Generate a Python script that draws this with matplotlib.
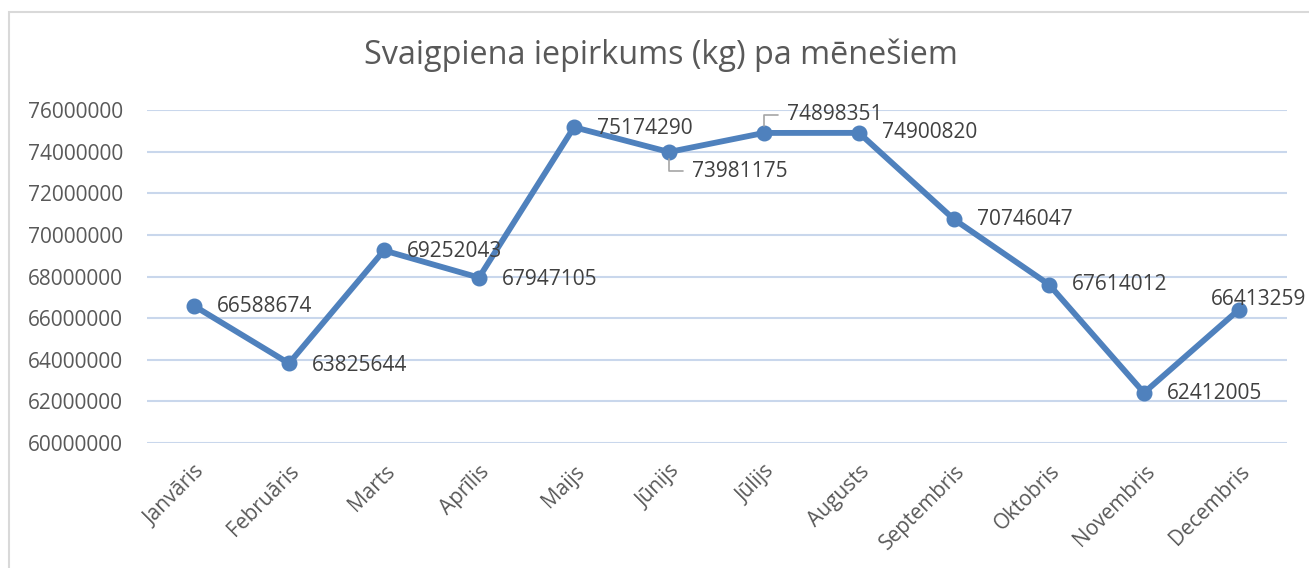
import matplotlib
matplotlib.use("Agg")
import matplotlib.pyplot as plt
from matplotlib.patches import Rectangle

months = ["Janvāris", "Februāris", "Marts", "Aprīlis", "Maijs", "Jūnijs",
          "Jūlijs", "Augusts", "Septembris", "Oktobris", "Novembris", "Decembris"]
values = [66588674, 63825644, 69252043, 67947105, 75174290, 73981175,
          74898351, 74900820, 70746047, 67614012, 62412005, 66413259]
yticks = [60000000, 62000000, 64000000, 66000000, 68000000, 70000000,
          72000000, 74000000, 76000000]
title = "Svaigpiena iepirkums (kg) pa mēnešiem"

FONT = ["Open Sans", "DejaVu Sans"]
plt.rcParams['font.family'] = FONT

W, H = 1309, 568
fig = plt.figure(figsize=(W / 100, H / 100), dpi=100)
fig.patch.set_facecolor("white")

# chart border
fig.add_artist(Rectangle((9 / W, -0.1), 1.2, 1 - 12 / H + 0.1, transform=fig.transFigure,
                         fill=False, edgecolor="#D9D9D9", linewidth=1.5))

left, right = 146.5 / W, 1286.5 / W
bottom, top = 1 - 443 / H, 1 - 110 / H
ax = fig.add_axes([left, bottom, right - left, top - bottom])

x = list(range(len(months)))
line_color = "#4F81BD"
ax.plot(x, values, color=line_color, linewidth=4.2, marker="o", markersize=10.5,
        solid_capstyle="round", solid_joinstyle="round", zorder=3, clip_on=False)

ax.set_xlim(-0.5, len(months) - 0.5)
ax.set_ylim(yticks[0], yticks[-1])
ax.set_yticks(yticks)
ax.set_yticklabels([str(v) for v in yticks])
ax.set_xticks(x)
ax.set_xticklabels(months, rotation=45, ha="right", rotation_mode="anchor")
ax.tick_params(axis="y", length=0, pad=17, labelsize=15, labelcolor="#595959")
ax.tick_params(axis="x", length=0, pad=13, labelsize=15, labelcolor="#595959")
for s in ax.spines.values():
    s.set_visible(False)
ax.grid(axis="y", color="#C9D7EC", linewidth=1.5)
ax.set_axisbelow(True)

# data labels (offsets in pixels)
offsets = {0: (23, -1), 1: (23, -2), 2: (23, -1), 3: (23, -2), 4: (23, -1),
           5: (23, -19), 6: (23, 18), 7: (23, 0), 8: (23, 0), 9: (23, 0),
           10: (23, -1), 11: (-28, 10)}
for i, v in enumerate(values):
    dx, dy = offsets[i]
    ax.annotate(str(v), (i, v), xytext=(dx, dy), textcoords="offset pixels",
                ha="left", va="center", fontsize=15, color="#404040", zorder=5,
                annotation_clip=False)

# leader lines for Jūnijs (below) and Jūlijs (above)
lc = "#A6A6A6"
ax.annotate("", (5, values[5]), xytext=(14, -19), textcoords="offset pixels",
            arrowprops=dict(arrowstyle="-", color=lc, lw=1.2,
                            connectionstyle="angle,angleA=0,angleB=90,rad=0",
                            shrinkA=0, shrinkB=5))
ax.annotate("", (6, values[6]), xytext=(14, 18), textcoords="offset pixels",
            arrowprops=dict(arrowstyle="-", color=lc, lw=1.2,
                            connectionstyle="angle,angleA=0,angleB=90,rad=0",
                            shrinkA=0, shrinkB=5))

fig.text(661 / W, 1 - 55 / H, title, ha="center", va="center", fontsize=23.3,
         color="#595959")

fig.savefig("out.png", dpi=100, facecolor="white")
